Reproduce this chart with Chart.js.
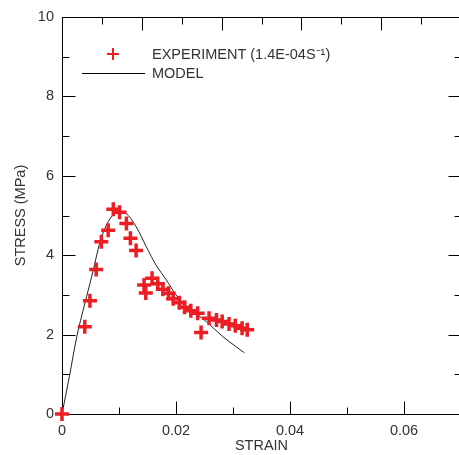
<!DOCTYPE html>
<html>
<head>
    <meta charset="UTF-8"/>
    <title>Stress - Strain</title>
    <script src="https://cdn.jsdelivr.net/npm/chart.js@4/dist/chart.umd.min.js"></script>
    <style>
        html, body { margin: 0; padding: 0; overflow: hidden; background: #fff; }
        #wrap { position: relative; width: 459px; height: 455px; overflow: hidden; }
        #wrap canvas { position: absolute; left: 0; top: 0; }
    </style>
</head>
<body>
<!-- canvas a bit wider than the window: the right frame sits just off the picture -->
<div id="wrap"><canvas id="graficoStress" width="467" height="455"></canvas></div>
<script type="text/javascript">
    // experiment points (strain, stress MPa)
    var expStrain = [0, 0.0040, 0.0049, 0.0060, 0.0069, 0.0081, 0.0090, 0.0101, 0.0113, 0.0120, 0.0130,
        0.0144, 0.0147, 0.0158, 0.0168, 0.0177, 0.0187, 0.0195, 0.0206, 0.0215, 0.0226, 0.0238,
        0.0244, 0.0258, 0.0271, 0.0281, 0.0293, 0.0304, 0.0316, 0.0325];
    var expStress = [0, 2.20, 2.85, 3.64, 4.34, 4.63, 5.16, 5.08, 4.80, 4.43, 4.12,
        3.25, 3.05, 3.42, 3.28, 3.14, 3.04, 2.90, 2.80, 2.69, 2.60, 2.54,
        2.05, 2.41, 2.37, 2.33, 2.27, 2.22, 2.16, 2.12];

    // model curve
    var modelStrain = [0, 0.0013, 0.0026, 0.0043, 0.0055, 0.0066, 0.0078, 0.0090, 0.0100, 0.0112, 0.0130,
        0.0148, 0.0165, 0.0183, 0.0200, 0.0224, 0.0253, 0.0282, 0.0305, 0.0320];
    var modelStress = [0, 0.95, 1.95, 2.95, 3.63, 4.30, 4.76, 5.02, 5.11, 5.06, 4.72,
        4.21, 3.75, 3.38, 3.00, 2.66, 2.33, 1.95, 1.70, 1.54];

    var xTicks = [0, 0.02, 0.04, 0.06];
    var xMinorTicks = [0.01, 0.02, 0.03, 0.04, 0.05, 0.06];
    var yTicks = [0, 2, 4, 6, 8, 10];
    var yMinorTicks = [1, 2, 3, 4, 5, 6, 7, 8, 9];
    var topTicks = [1, 2, 3, 4, 5, 6, 7, 8, 9]; // top axis runs 0..10

    var legendLabels = ["EXPERIMENT (1.4E-04S\u207B\u00B9)", "MODEL"];

    var fontName = "'Liberation Sans', Arial, sans-serif";
    var textColor = "#333";
    var red = "rgb(236,30,36)";
    var plotRight = 461; // right frame, just outside the window

    var toPoints = function (xs, ys) {
        var out = [];
        for (var i = 0; i < xs.length; i++) {
            out.push({x: xs[i], y: ys[i]});
        }
        return out;
    };

    var isMajor = function (v, step) {
        return Math.abs(Math.round(v / step) * step - v) < 1e-9;
    };

    // frame and inward tick marks
    var framePlugin = {
        id: 'frame',
        afterLayout: function (chart) {
            var x = chart.scales.x;
            x.right = plotRight;
            x.width = x.right - x.left;
            x.configure();
            chart.chartArea.right = plotRight;
            chart.chartArea.width = plotRight - chart.chartArea.left;
        },
        beforeDatasetsDraw: function (chart) {
            var ctx = chart.ctx, a = chart.chartArea;
            var x = chart.scales.x, y = chart.scales.y;
            ctx.save();
            ctx.strokeStyle = "#000";
            ctx.lineWidth = 1;
            var L = Math.round(a.left) + 0.5, R = Math.round(a.right) + 0.5;
            var T = Math.round(a.top) + 0.5, B = Math.round(a.bottom) + 0.5;
            ctx.strokeRect(L, T, R - L, B - T);
            ctx.beginPath();
            yMinorTicks.forEach(function (v) {
                var py = Math.round(y.getPixelForValue(v)) + 0.5;
                var len = isMajor(v, 2) ? 13 : 7;
                ctx.moveTo(L, py); ctx.lineTo(L + len, py);
                ctx.moveTo(R, py); ctx.lineTo(R - len, py);
            });
            xMinorTicks.forEach(function (v) {
                var px = Math.round(x.getPixelForValue(v)) + 0.5;
                var len = isMajor(v, 0.02) ? 13 : 7;
                ctx.moveTo(px, B); ctx.lineTo(px, B - len);
            });
            topTicks.forEach(function (v) {
                var px = Math.round(a.left + (a.right - a.left) * v / 10) + 0.5;
                var len = isMajor(v, 2) ? 13 : 7;
                ctx.moveTo(px, T); ctx.lineTo(px, T + len);
            });
            ctx.stroke();
            ctx.restore();
        },
        afterDraw: function (chart) {
            var ctx = chart.ctx, a = chart.chartArea;
            ctx.save();
            // experiment marker
            ctx.strokeStyle = red;
            ctx.lineWidth = 2;
            var cx = a.left + 51, cy = a.top + 37;
            ctx.beginPath();
            ctx.moveTo(cx - 6, cy); ctx.lineTo(cx + 6, cy);
            ctx.moveTo(cx, cy - 6); ctx.lineTo(cx, cy + 6);
            ctx.stroke();
            // model line
            ctx.strokeStyle = "#000";
            ctx.lineWidth = 1;
            ctx.beginPath();
            ctx.moveTo(a.left + 20, a.top + 56.5);
            ctx.lineTo(a.left + 83, a.top + 56.5);
            ctx.stroke();
            ctx.fillStyle = textColor;
            ctx.font = "14.5px " + fontName;
            ctx.textBaseline = "middle";
            ctx.textAlign = "left";
            ctx.fillText(legendLabels[0], a.left + 90, cy + 1);
            ctx.fillText(legendLabels[1], a.left + 90, a.top + 57);
            ctx.restore();
        }
    };

    var ctx = document.getElementById("graficoStress");
    var myChart = new Chart(ctx, {
        type: 'scatter',
        data: {
            datasets: [
                {
                    label: legendLabels[0],
                    data: toPoints(expStrain, expStress),
                    pointStyle: 'cross',
                    pointRadius: 7,
                    pointBorderWidth: 3.5,
                    borderColor: red,
                    backgroundColor: red,
                    showLine: false,
                    clip: false,
                    order: 1
                },
                {
                    label: legendLabels[1],
                    data: toPoints(modelStrain, modelStress),
                    showLine: true,
                    borderColor: "#222",
                    borderWidth: 1,
                    pointRadius: 0,
                    cubicInterpolationMode: 'monotone',
                    order: 2
                }
            ]
        },
        options: {
            responsive: false,
            animation: false,
            devicePixelRatio: 1,
            layout: {padding: {top: 17, right: 1, left: 0, bottom: 0}},
            plugins: {
                legend: {display: false},
                tooltip: {enabled: false}
            },
            scales: {
                x: {
                    type: 'linear',
                    min: 0,
                    max: 0.07,
                    afterBuildTicks: function (scale) {
                        scale.ticks = xTicks.map(function (v) { return {value: v}; });
                    },
                    afterFit: function (scale) {
                        scale.height = 41;
                        scale.paddingLeft = 0;
                        scale.paddingRight = 0;
                    },
                    grid: {display: false, drawTicks: false},
                    border: {display: false},
                    ticks: {
                        autoSkip: false,
                        maxRotation: 0,
                        padding: 8,
                        color: textColor,
                        font: {family: fontName, size: 14.5},
                        callback: function (v) { return v === 0 ? "0" : v.toFixed(2); }
                    },
                    title: {
                        display: true,
                        text: "STRAIN",
                        color: textColor,
                        font: {family: fontName, size: 14.5},
                        padding: {top: 0, bottom: 0}
                    }
                },
                y: {
                    type: 'linear',
                    min: 0,
                    max: 10,
                    afterBuildTicks: function (scale) {
                        scale.ticks = yTicks.map(function (v) { return {value: v}; });
                    },
                    afterFit: function (scale) {
                        scale.width = 62;
                        scale.paddingTop = 0;
                        scale.paddingBottom = 0;
                    },
                    grid: {display: false, drawTicks: false},
                    border: {display: false},
                    ticks: {
                        autoSkip: false,
                        padding: 8,
                        color: textColor,
                        font: {family: fontName, size: 14.5},
                        callback: function (v) { return String(v); }
                    },
                    title: {
                        display: true,
                        text: "STRESS (MPa)",
                        color: textColor,
                        font: {family: fontName, size: 14.5},
                        padding: {top: 12, bottom: 0}
                    }
                }
            }
        },
        plugins: [framePlugin]
    });
</script>
</body>
</html>
